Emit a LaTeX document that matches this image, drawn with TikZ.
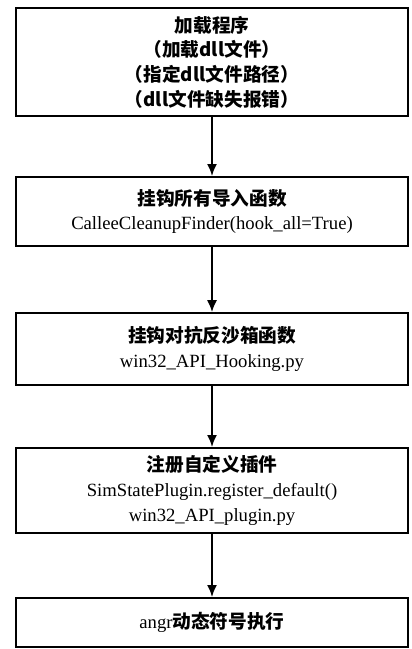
\documentclass[tikz,border=0pt]{standalone}
\usepackage{fontspec}
\setmainfont{Liberation Serif}
\newfontfamily\cjk{Noto Sans CJK SC}
\usetikzlibrary{positioning}
\usetikzlibrary{arrows.meta}

\tikzset{
	stepbox/.style = {draw, line width = 1.2pt, minimum width = 294pt, align = center, inner sep = 0pt, font = \fontsize{14}{18.5}\selectfont},
	flow/.style = {line width = 1.4pt, -{Latex[length = 9pt, width = 7.5pt]}}
}

\begin{document}
\begin{tikzpicture}[x = 0.75pt, y = -0.75pt]
		\useasboundingbox (0, 0) rectangle (411, 649);

		\node (load) [stepbox, minimum height = 81pt] at (212, 62) {{\cjk\bfseries 加载程序}\\{\cjk\bfseries （加载dll文件）}\\{\cjk\bfseries （指定dll文件路径）}\\{\cjk\bfseries （dll文件缺失报错）}};
		\node (hookall) [stepbox, minimum height = 52pt] at (212, 211.5) {{\cjk\bfseries 挂钩所有导入函数}\\CalleeCleanupFinder(hook\_all=True)};
		\node (sandbox) [stepbox, minimum height = 54pt] at (212, 349) {{\cjk\bfseries 挂钩对抗反沙箱函数}\\win32\_API\_Hooking.py};
		\node (plugin) [stepbox, minimum height = 64pt] at (212, 490.5) {{\cjk\bfseries 注册自定义插件}\\SimStatePlugin.register\_default()\\win32\_API\_plugin.py};
		\node (angr) [stepbox, minimum height = 37pt] at (212, 622.5) {angr{\cjk\bfseries 动态符号执行}};

		\draw [flow] (load) -- (hookall);
		\draw [flow] (hookall) -- (sandbox);
		\draw [flow] (sandbox) -- (plugin);
		\draw [flow] (plugin) -- (angr);
	\end{tikzpicture}
\end{document}
